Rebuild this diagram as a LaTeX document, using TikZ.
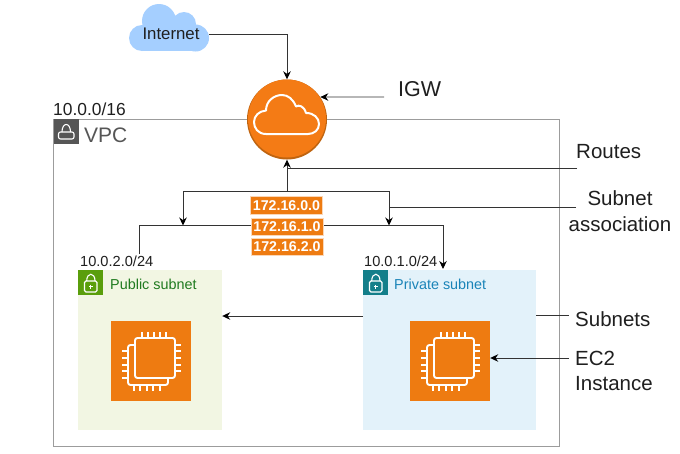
\documentclass[tikz,border=0pt]{standalone}
\usepackage{fontspec}
\setmainfont{Liberation Sans}
\usetikzlibrary{arrows.meta,calc}
\definecolor{awsorange}{HTML}{EE7B11}
\definecolor{igwedge}{HTML}{BF6410}
\definecolor{igwface}{HTML}{F47B15}
\definecolor{cloudblue}{HTML}{A5CFFF}
\definecolor{pubfill}{HTML}{F2F6E3}
\definecolor{privfill}{HTML}{E3F2FA}
\definecolor{pubicon}{HTML}{5A9E0C}
\definecolor{privicon}{HTML}{147F8A}
\definecolor{pubtext}{HTML}{1F7A1F}
\definecolor{privtext}{HTML}{1A84B8}
\definecolor{vpcgrey}{HTML}{565656}
\definecolor{border}{HTML}{9C9C9C}
\definecolor{wire}{HTML}{333333}
\newcommand{\fsz}[1]{\fontsize{#1}{#1}\selectfont}
\tikzset{
  wireline/.style={draw=wire,line width=0.9pt},
  wirearrow/.style={wireline,-{Stealth[length=8pt,width=7.5pt,color=black]}},
  lbl/.style={inner sep=0pt,text=black!88},
  sidelbl/.style={lbl,font=\fsz{20.5},anchor=west},
  addr/.style={lbl,font=\fsz{14.6}},
  route/.style={fill=awsorange,draw=white!70!awsorange,line width=0.4pt,text=white,font=\fsz{14.2}\bfseries,inner sep=0pt,minimum width=72pt,minimum height=18pt},
  ecbox/.style={fill=awsorange,minimum size=80pt,inner sep=0pt},
  glyph/.style={draw=white,line width=1.9pt},
  lockline/.style={draw=white,line width=1.1pt}
}
\newcommand{\ecchip}[2]{%
\begin{scope}[shift={(#1,#2)}]
  \draw[glyph,rounded corners=2.5pt] (24,24) -- (17,24) -- (17,64) -- (57,64) -- (57,57);
  \draw[glyph,rounded corners=2.5pt] (24,17) rectangle (64,57);
  \foreach \p in {31,37,43,49,55}{\draw[glyph] (\p,11) -- (\p,17);}
  \foreach \p in {24,30,37,44,50}{\draw[glyph] (64,\p) -- (70,\p);}
  \foreach \p in {30,37,44,50,57}{\draw[glyph] (11,\p) -- (17,\p);}
  \foreach \p in {23,29,36,42,49}{\draw[glyph] (\p,64) -- (\p,70);}
\end{scope}}
\newcommand{\sublock}[2]{%
\begin{scope}[shift={(#1,#2)}]
  \draw[lockline,rounded corners=1.5pt] (6.5,11) rectangle (19,22);
  \draw[lockline] (8.7,11) .. controls (8.7,2) and (17,2) .. (17,11);
  \draw[draw=white,line width=0.8pt] (10.8,16.5) -- (14.8,16.5) (12.8,14.5) -- (12.8,18.5);
\end{scope}}
\begin{document}
\begin{tikzpicture}[x=1pt,y=-1pt]
\useasboundingbox (0,0) rectangle (680,453);
\fill[white] (0,0) rectangle (680,453);

% VPC
\node[draw=border,line width=0.9pt,minimum width=506pt,minimum height=327pt,inner sep=0pt] (vpc) at (306,282.5) {};
\node[fill=vpcgrey,minimum size=25pt,inner sep=0pt] (vpcicon) at (66,131.5) {};
\begin{scope}[shift={(53.5,119)}]
  \draw[lockline,rounded corners=2pt] (5,13) rectangle (20.5,20);
  \draw[lockline] (8.5,13) .. controls (8.5,3) and (17,3) .. (17,13);
\end{scope}
\node[lbl,font=\fsz{21},text=vpcgrey,anchor=west] (vpctext) at (84,135.5) {VPC};
\node[lbl,font=\fsz{17.4},anchor=west] (vpccidr) at (53,109.5) {10.0.0/16};

% Internet cloud
\fill[cloudblue] (142,38) circle (13pt) (195.5,38) circle (13.5pt) (159,21) circle (17pt) (184,24) circle (12pt);
\fill[cloudblue] (142,30) rectangle (195.5,51);
\node[lbl,font=\fsz{16.8},minimum width=76pt,minimum height=20pt] (inet) at (171,34) {Internet};

% Internet gateway
\node[circle,fill=igwedge,minimum size=80pt,inner sep=0pt] (igw) at (287,119.5) {};
\fill[igwface] (287,118.5) circle (39pt);
\draw[draw=white,line width=2pt,line join=round] (266,134) .. controls (258,134) and (254,128) .. (254,122) .. controls (254,116) and (259,111) .. (266,110.5) .. controls (266,101) and (274,95) .. (282,95) .. controls (288,95) and (293,99) .. (296,106.5) .. controls (299,104.5) and (304,106) .. (306,113) .. controls (314,113) and (319,118) .. (319,124) .. controls (319,130) and (314,134) .. (308,134) -- cycle;

% Subnets
\node[fill=pubfill,minimum width=144pt,minimum height=160pt,inner sep=0pt] (public) at (150,350) {};
\node[fill=privfill,minimum width=173pt,minimum height=160pt,inner sep=0pt] (private) at (449.5,350) {};
\node[fill=pubicon,minimum size=25pt,inner sep=0pt] (pubicon) at (90.5,282.5) {};
\node[fill=privicon,minimum size=25pt,inner sep=0pt] (privicon) at (375.5,282.5) {};
\sublock{78}{270}
\sublock{363}{270}
\node[lbl,font=\fsz{14.4},text=pubtext,anchor=west] (pubname) at (110,284) {Public subnet};
\node[lbl,font=\fsz{14.4},text=privtext,anchor=west] (privname) at (394,284) {Private subnet};
\node[addr,anchor=west] (pubcidr) at (80,261) {10.0.2.0/24};
\node[addr,anchor=west] (privcidr) at (364,261) {10.0.1.0/24};

% EC2
\node[ecbox] (ecpub) at (151,361) {};
\node[ecbox] (ecpriv) at (450,361) {};
\ecchip{111}{321}
\ecchip{410}{321}

% Side labels
\node[lbl,font=\fsz{21.5},anchor=west] (igwlabel) at (398,89) {IGW};
\node[sidelbl] (routes) at (576,151.5) {Routes};
\node[lbl,font=\fsz{20.5},align=center] (assoc) at (620,211) {Subnet\\[5.5pt]association};
\node[sidelbl] (subnets) at (575,319.5) {Subnets};
\node[sidelbl] (eclabel) at (575,358.5) {EC2};
\node[sidelbl] (instlabel) at (575,383.5) {Instance};

% Free ends and junctions
\coordinate (igwfree) at (384,97);
\coordinate (routefree) at (577,168);
\coordinate (assocfree) at (576,207);
\coordinate (subnetsfree) at (569,315);
\coordinate (ecfree) at (569,358);
\coordinate (hub) at (287,191.5);
\coordinate (routejoin) at (287,168);
\coordinate (busleft) at (183,225.5);
\coordinate (busright) at (389,225.5);
\coordinate (assocjoin) at (389,207);
\coordinate (pubdrop) at (139,254);
\coordinate (privdrop) at (443,269);
\coordinate (peer) at (363,316);

% Connectors
\draw[wirearrow] (inet.east) -| (igw.north);
\draw[wirearrow] (igwfree) -- (igw.34);
\draw[wirearrow] (hub) -- (igw.south);
\draw[wireline] (routefree) -- (routejoin);
\draw[wirearrow] (hub) -| (busleft);
\draw[wirearrow] (hub) -| (busright);
\draw[wireline] (assocfree) -- (assocjoin);
\draw[wireline] (pubdrop) |- (busleft) -- (busright);
\draw[wirearrow] (busright) -| (privdrop);
\draw[wirearrow] (peer) -- (public.east |- peer);
\draw[wireline] (private.east |- subnetsfree) -- (subnetsfree);
\draw[wirearrow] (ecfree) -- (ecpriv.east |- ecfree);

% Route table
\node[route] (r0) at (286.5,205.5) {172.16.0.0};
\node[route,minimum height=17pt] (r1) at (287,226.5) {172.16.1.0};
\node[route,minimum height=17pt] (r2) at (287,246.5) {172.16.2.0};
\end{tikzpicture}
\end{document}
